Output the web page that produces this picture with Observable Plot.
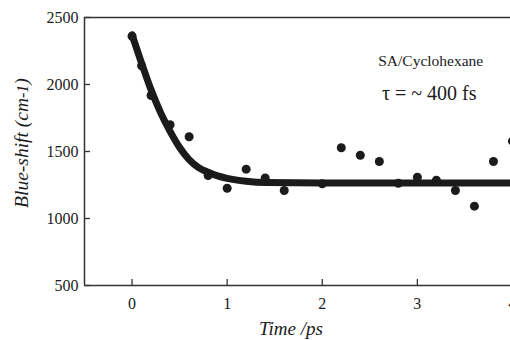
<!DOCTYPE html>
<html><head><meta charset="utf-8">
<script src="https://cdn.jsdelivr.net/npm/d3@7"></script>
<script src="https://cdn.jsdelivr.net/npm/@observablehq/plot@0.6"></script>
<style>
html,body{margin:0;padding:0;background:#fff;overflow:hidden;width:510px;height:340px;}
#c{width:510px;height:340px;overflow:hidden;}
#c svg{max-width:none !important;}
</style></head>
<body><div id="c"></div>
<script>
// measured data points
const times = [0, 0.1, 0.2, 0.4, 0.6, 0.8, 1.0, 1.2, 1.4, 1.6, 2.0, 2.2, 2.4, 2.6, 2.8, 3.0, 3.2, 3.4, 3.6, 3.8, 4.0];
const shifts = [2360, 2140, 1918, 1700, 1610, 1321, 1226, 1368, 1303, 1209, 1259, 1528, 1472, 1425, 1263, 1308, 1286, 1209, 1092, 1425, 1577];
// fitted curve
const fitT = [0, 0.1, 0.2, 0.3, 0.4, 0.5, 0.6, 0.7, 0.8, 0.9, 1.0, 1.2, 1.4, 2.0, 3.0, 4.2];
const fitY = [2370, 2160, 1960, 1790, 1650, 1530, 1440, 1380, 1345, 1318, 1300, 1278, 1268, 1265, 1265, 1265];
const xTicks = [0, 1, 2, 3, 4];
const yTicks = [500, 1000, 1500, 2000, 2500];
const label1 = "SA/Cyclohexane";
const label2 = "τ = ~ 400 fs";

const points = times.map((t, i) => ({t, y: shifts[i]}));
const fit = fitT.map((t, i) => ({t, y: fitY[i]}));

const ink = "#1b1b1b";
const serif = "'Liberation Serif', 'DejaVu Serif', serif";
const chart = Plot.plot({
  width: 531, height: 340,
  marginLeft: 84, marginRight: 0, marginTop: 17, marginBottom: 55,
  style: {fontFamily: serif, fontSize: "16px", color: ink, background: "#fff", overflow: "visible", maxWidth: "none"},
  x: {domain: [-0.5, 4.2]},
  y: {domain: [500, 2500]},
  marks: [
    Plot.ruleX([-0.5], {stroke: "#333", strokeWidth: 1.5}),
    Plot.ruleY([500, 2500], {stroke: "#333", strokeWidth: 1.5}),
    Plot.tickY(yTicks, {stroke: "#333", strokeWidth: 1.3, insetRight: 441}),
    Plot.tickX(xTicks, {stroke: "#333", strokeWidth: 1.3, insetTop: 262}),
    Plot.axisY(yTicks, {tickSize: 0, tickPadding: 6, fontSize: 16, label: null, tickFormat: d => String(d)}),
    Plot.axisX(xTicks, {tickSize: 0, tickPadding: 12, fontSize: 16, label: null, tickFormat: d => String(d)}),
    Plot.line(fit, {x: "t", y: "y", stroke: ink, strokeWidth: 7, curve: "monotone-x"}),
    Plot.dot(points, {x: "t", y: "y", r: 4.5, fill: ink, stroke: "none"}),
    Plot.text([label1], {x: 3.14, y: 2172, text: d => d, fontSize: 15.5, fill: ink, fontFamily: serif}),
    Plot.text([label2], {x: 3.125, y: 1933, text: d => d, fontSize: 20, fill: ink, fontFamily: serif})
  ]
});
const svg = d3.select(chart);
svg.append("text")
  .attr("x", 291).attr("y", 335)
  .attr("text-anchor", "middle")
  .attr("font-family", serif)
  .attr("font-style", "italic").attr("font-size", 19)
  .attr("fill", ink)
  .text("Time /ps");
const yl = svg.append("text")
  .attr("transform", "translate(28,143) rotate(-90)")
  .attr("text-anchor", "middle")
  .attr("font-family", serif)
  .attr("font-style", "italic").attr("font-size", 19.5)
  .attr("fill", ink);
yl.append("tspan").text("Blue-shift (cm");
yl.append("tspan").attr("font-size", 16).text("-1");
yl.append("tspan").text(")");
document.getElementById("c").appendChild(chart);
</script>
</body></html>
